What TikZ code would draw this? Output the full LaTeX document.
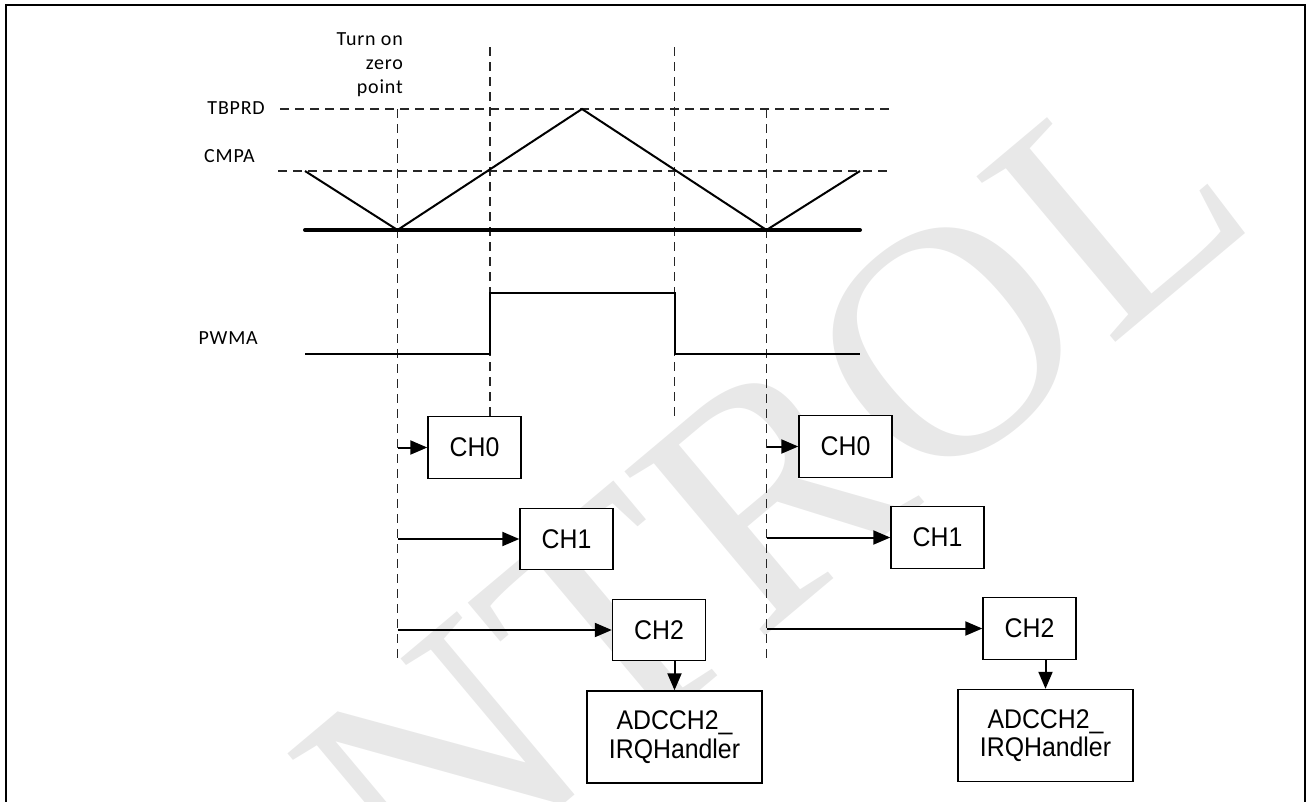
\documentclass[tikz,border=0pt]{standalone}
\usepackage{fontspec}
\setmainfont{Liberation Sans}
\newfontfamily\lblfont[LetterSpace=4]{Carlito}
\newfontfamily\boxfont[FakeStretch=0.92]{Liberation Sans}
\newfontfamily\wmfont{Liberation Serif}
\usetikzlibrary{arrows.meta}
\begin{document}
\begin{tikzpicture}[x=1pt,y=-1pt,
  sig/.style={line width=2pt, line join=miter},
  baseln/.style={line width=4pt, line cap=round},
  guide/.style={line width=1.5pt, black!85, dash pattern=on 9pt off 6pt},
  chbox/.style={draw, line width=1.4pt, minimum width=93pt, minimum height=61.5pt, inner sep=0pt, fill=white, font=\boxfont\fontsize{27}{30}\selectfont},
  adcbox/.style={chbox, minimum width=175pt, minimum height=92pt, align=center, font=\boxfont\fontsize{27}{28.5}\selectfont},
  arr/.style={line width=2pt, -{Triangle[length=17pt,width=14pt]}},
  lbl/.style={inner sep=0pt, font=\lblfont\fontsize{20}{24}\selectfont},
  wm/.style={text=black!9, inner sep=0pt, font=\wmfont\fontsize{330}{330}\selectfont},
  frame/.style={line width=2.7pt}
]
\useasboundingbox (0,0) rectangle (1308,801);
\clip (0,0) rectangle (1308,801);

% watermark
\node[wm, rotate=40] (wmark) at (772,490) {NTROL};

% frame
\coordinate (fbl) at (6,810);
\coordinate (ftl) at (6,5);
\coordinate (ftr) at (1305,5);
\coordinate (fbr) at (1305,810);
\draw[frame] (fbl) -- (ftl) -- (ftr) -- (fbr);

% labels
\node[lbl, anchor=north east, align=right] (turn) at (403,32.5) {Turn on\\zero\\point};
\node[lbl, anchor=east] (tbprd) at (265,108.3) {TBPRD};
\node[lbl, anchor=east] (cmpa) at (255,155.8) {CMPA};
\node[lbl, anchor=east] (pwma) at (258,338) {PWMA};

% horizontal guides
\coordinate (tb1) at (280,109);
\coordinate (tb2) at (892,109);
\coordinate (cm1) at (278,171);
\coordinate (cm2) at (890,171);
\draw[guide] (tb1) -- (tb2);
\draw[guide] (cm1) -- (cm2);

% boxes
\node[chbox] (c0L) at (474.5,447.5) {CH0};
\node[chbox] (c1L) at (566.5,539) {CH1};
\node[chbox] (c2L) at (659,630) {CH2};
\node[adcbox] (adL) at (674.5,737) {ADCCH2\_\\IRQHandler};
\node[chbox] (c0R) at (845.5,446.5) {CH0};
\node[chbox] (c1R) at (937.5,537.5) {CH1};
\node[chbox] (c2R) at (1029.5,628.5) {CH2};
\node[adcbox] (adR) at (1045.5,735.5) {ADCCH2\_\\IRQHandler};

% vertical guides
\coordinate (vA) at (397.5,109);
\coordinate (vAb) at (397.5,660);
\coordinate (vB) at (490,47);
\coordinate (vC) at (674.5,47);
\coordinate (vCb) at (674.5,416);
\coordinate (vD) at (766.5,109);
\coordinate (vDb) at (766.5,660);
\draw[guide] (vA) -- (vAb);
\draw[guide] (vB) -- (vB |- c0L.north);
\draw[guide] (vC) -- (vCb);
\draw[guide] (vD) -- (vDb);

% waveforms
\draw[baseln] (305,230) -- (860,230);
\draw[sig] (305,171) -- (397.5,230) -- (582,109) -- (766.5,230) -- (860,171);
\draw[sig] (305,354) -- (490,354) -- (490,293) -- (674.5,293) -- (674.5,354) -- (860,354);

% arrows
\draw[arr] (vA |- c0L.west) -- (c0L.west);
\draw[arr] (vA |- c1L.west) -- (c1L.west);
\draw[arr] (vA |- c2L.west) -- (c2L.west);
\draw[arr] (adL.north |- c2L.south) -- (adL.north);
\draw[arr] (vD |- c0R.west) -- (c0R.west);
\draw[arr] (vD |- c1R.west) -- (c1R.west);
\draw[arr] (vD |- c2R.west) -- (c2R.west);
\draw[arr] (adR.north |- c2R.south) -- (adR.north);
\end{tikzpicture}
\end{document}
